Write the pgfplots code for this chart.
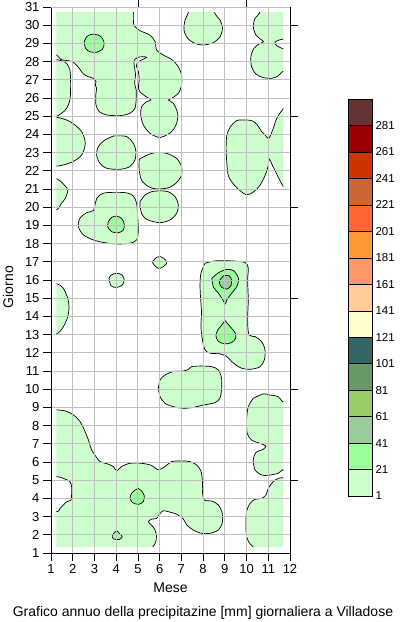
\documentclass[border=0pt]{standalone}
\usepackage{pgfplots}
\pgfplotsset{compat=1.18}
\usepackage{fontspec}
\setmainfont{Liberation Sans}
\definecolor{c1}{HTML}{CCFFCC}
\definecolor{c2}{HTML}{99FF99}
\definecolor{c3}{HTML}{99CC99}
\definecolor{c4}{HTML}{99CC66}
\definecolor{c5}{HTML}{669966}
\definecolor{c6}{HTML}{336666}
\definecolor{c7}{HTML}{FFFFCC}
\definecolor{c8}{HTML}{FFCC99}
\definecolor{c9}{HTML}{FF9966}
\definecolor{c10}{HTML}{FF9933}
\definecolor{c11}{HTML}{FF6633}
\definecolor{c12}{HTML}{CC6633}
\definecolor{c13}{HTML}{CC3300}
\definecolor{c14}{HTML}{990000}
\definecolor{c15}{HTML}{663333}
\definecolor{gridc}{HTML}{C0C0C0}
\tikzset{
  cl1/.style={fill=c1, draw=black, line width=0.7pt, smooth, tension=0.5},
  cl2/.style={fill=c2, draw=black, line width=0.7pt, smooth, tension=0.5},
  cl3/.style={fill=c3, draw=black, line width=0.7pt, smooth, tension=0.5},
}
\begin{document}
\begin{tikzpicture}
\useasboundingbox (-51pt,-69pt) rectangle (349pt,553pt);
\begin{axis}[
  at={(0pt,0pt)}, anchor=south west,
  scale only axis, width=239pt, height=546pt,
  xmin=1, xmax=12, ymin=1, ymax=31,
  xtick={1,...,12}, ytick={1,...,31},
  axis x line*=bottom, axis y line*=left,
  tick align=outside, major tick length=8pt,
  grid=major, major grid style={draw=gridc, line width=0.9pt},
  axis line style={draw=black, line width=0.9pt},
  major tick style={draw=black, line width=0.8pt},
  tick label style={font=\fontsize{13}{13}\selectfont},
  /pgf/number format/assume math mode=true,
  axis on top,
]
\begin{scope}
\clip (axis cs:1.25,1.35) rectangle (axis cs:11.7,30.7);
% region A (top left)
\addplot[cl1] coordinates {(0.8,31.2) (4.79,31.2) (4.79,30.65) (4.82,30.0) (5.10,29.7) (5.55,29.46) (5.79,29.1) (5.86,28.64) (6.17,28.36) (6.55,28.12) (6.86,27.72) (7.01,27.26) (7.01,26.71) (6.86,26.26) (6.55,25.98) (6.40,25.89) (6.63,25.71) (6.83,25.16) (6.78,24.6) (6.55,24.15) (6.17,23.88) (5.94,23.84) (5.55,24.06) (5.25,24.52) (5.13,25.07) (5.17,25.52) (5.40,25.8) (5.60,25.89) (5.33,26.11) (5.10,26.33) (5.02,26.59) (5.06,26.99) (5.02,27.45) (4.93,27.76) (4.97,27.94) (5.17,28.09) (5.40,28.23) (5.25,28.27) (4.97,28.22) (4.82,28.03) (4.84,27.72) (4.89,27.26) (4.85,26.81) (4.92,26.44) (4.92,25.89) (4.86,25.43) (4.63,25.16) (4.17,25.03) (3.56,25.07) (3.22,25.25) (3.07,25.62) (3.06,26.16) (3.10,26.53) (3.04,26.71) (3.07,26.9) (2.95,27.08) (2.72,27.17) (2.49,27.32) (2.30,27.63) (2.10,27.9) (1.87,28.03) (1.64,28.07) (1.44,28.12) (1.34,28.27) (1.26,28.36) (0.8,28.4)} -- cycle;
\addplot[cl2] coordinates {(2.53,29.09) (2.64,29.37) (2.87,29.5) (3.18,29.46) (3.36,29.28) (3.45,29.0) (3.36,28.67) (3.10,28.51) (2.79,28.54) (2.59,28.73) (2.53,29.09)} -- cycle;
% left strip
\addplot[cl1] coordinates {(0.8,28.1) (1.3,28.1) (1.49,28.05) (1.72,27.9) (1.87,27.54) (1.90,26.99) (1.90,26.44) (1.87,25.89) (1.72,25.43) (1.49,25.16) (1.29,25.01) (0.8,25.0)} -- cycle;
% left half disc
\addplot[cl1] coordinates {(0.8,24.95) (1.26,24.94) (1.72,24.79) (2.10,24.52) (2.41,24.15) (2.56,23.69) (2.56,23.33) (2.41,22.87) (2.10,22.56) (1.72,22.37) (1.29,22.26) (0.8,22.25)} -- cycle;
% blob (4,23)
\addplot[cl1] coordinates {(3.87,23.91) (4.02,23.92) (4.48,23.88) (4.79,23.51) (4.91,23.05) (4.86,22.59) (4.63,22.23) (4.17,22.08) (3.56,22.14) (3.25,22.41) (3.10,22.87) (3.18,23.33) (3.48,23.69) (3.87,23.91)} -- cycle;
% blob (6,22)
\addplot[cl1] coordinates {(5.06,22.63) (5.40,22.85) (5.79,23.0) (6.32,22.96) (6.78,22.68) (7.01,22.23) (7.01,21.77) (6.78,21.35) (6.40,21.07) (5.86,21.0) (5.48,21.13) (5.17,21.49) (5.06,22.04) (5.06,22.63)} -- cycle;
% blob (6,20)
\addplot[cl1] coordinates {(5.10,20.3) (5.33,20.67) (5.63,20.85) (6.02,20.9) (6.40,20.85) (6.71,20.58) (6.86,20.12) (6.78,19.66) (6.48,19.3) (6.02,19.15) (5.55,19.26) (5.33,19.39) (5.17,19.66) (5.10,20.03) (5.10,20.3)} -- cycle;
% left piece 20-21
\addplot[cl1] coordinates {(0.8,21.6) (1.29,21.55) (1.57,21.27) (1.77,20.95) (1.66,20.49) (1.46,20.18) (1.29,19.88) (0.8,19.85)} -- cycle;
% blob (4,19)
\addplot[cl1] coordinates {(3.10,20.48) (3.25,20.67) (3.56,20.8) (4.41,20.8) (4.79,20.62) (4.94,20.21) (4.98,19.66) (5.02,18.75) (4.94,18.2) (4.64,18.02) (4.10,17.98) (3.64,18.02) (3.02,18.17) (2.49,18.48) (2.26,18.94) (2.33,19.39) (2.64,19.7) (2.95,19.81) (3.02,20.12) (3.10,20.48)} -- cycle;
\addplot[cl2] coordinates {(3.64,19.2) (3.79,19.44) (4.02,19.51) (4.25,19.38) (4.37,19.07) (4.33,18.74) (4.10,18.6) (3.79,18.65) (3.61,18.93) (3.64,19.2)} -- cycle;
% small (4,16)
\addplot[cl1] coordinates {(3.67,16.09) (3.76,16.27) (4.02,16.37) (4.28,16.27) (4.37,16.0) (4.28,15.72) (4.02,15.59) (3.76,15.68) (3.67,16.09)} -- cycle;
% small (6,17)
\addplot[cl1] coordinates {(5.66,17.0) (5.86,17.24) (6.06,17.28) (6.28,17.09) (6.32,16.91) (6.12,16.69) (5.94,16.64) (5.75,16.82) (5.66,17.0)} -- cycle;
% left piece 13-15
\addplot[cl1] coordinates {(0.8,15.8) (1.31,15.78) (1.57,15.54) (1.77,15.0) (1.83,14.53) (1.77,13.98) (1.57,13.43) (1.31,13.07) (0.8,13.0)} -- cycle;
% blob (8,30)
\addplot[cl1] coordinates {(7.35,31.2) (7.32,30.69) (7.17,30.29) (7.12,29.74) (7.29,29.28) (7.63,29.0) (8.01,28.91) (8.47,29.04) (8.78,29.37) (8.89,29.83) (8.78,30.29) (8.55,30.62) (8.5,31.2)} -- cycle;
% top right
\addplot[cl1] coordinates {(10.6,31.2) (10.61,30.69) (10.39,30.38) (10.31,29.92) (10.43,29.46) (10.66,29.22) (10.78,29.09) (10.58,28.97) (10.34,28.73) (10.2,28.27) (10.23,27.72) (10.43,27.32) (10.77,27.12) (11.15,27.08) (11.46,27.21) (11.66,27.45) (12,27.6) (12,28.6) (11.69,28.70) (11.38,28.88) (11.31,29.06) (11.46,29.17) (11.69,29.24) (12,29.3) (12,31.2)} -- cycle;
% right middle
\addplot[cl1] coordinates {(9.93,24.79) (10.23,24.76) (10.46,24.57) (10.7,24.15) (10.85,23.97) (11.03,23.79) (11.23,24.33) (11.39,24.88) (11.65,25.34) (12,25.6) (12,20.9) (11.69,21.15) (11.46,21.65) (11.23,22.2) (11.04,22.65) (11.0,22.29) (10.85,21.74) (10.61,21.19) (10.31,20.83) (10.0,20.68) (9.70,20.91) (9.39,21.28) (9.16,21.74) (9.09,22.47) (9.06,23.2) (9.09,23.93) (9.24,24.39) (9.55,24.76) (9.93,24.79)} -- cycle;
% region (9,14)
\addplot[cl1] coordinates {(8.09,16.92) (8.55,17.05) (9.31,17.05) (9.93,16.96) (10.08,16.65) (10.05,16.01) (10.08,14.91) (10.05,13.81) (10.11,12.99) (10.39,12.89) (10.69,12.62) (10.85,12.16) (10.82,11.61) (10.62,11.24) (10.23,11.1) (9.78,11.15) (9.40,11.43) (9.09,11.79) (8.78,11.94) (8.32,11.98) (8.09,12.16) (7.97,12.71) (7.90,13.44) (7.93,14.17) (7.90,14.72) (7.86,15.64) (7.90,16.37) (8.09,16.92)} -- cycle;
\addplot[cl2] coordinates {(8.40,16.09) (8.71,16.4) (9.09,16.58) (9.40,16.51) (9.63,16.09) (9.55,15.64) (9.31,15.27) (9.09,14.91) (9.02,14.69) (8.89,14.94) (8.71,15.27) (8.48,15.6) (8.40,16.09)} -- cycle;
\addplot[cl3] coordinates {(8.78,16.01) (8.94,16.23) (9.20,16.23) (9.31,16.01) (9.28,15.68) (9.09,15.5) (8.86,15.6) (8.75,15.83) (8.78,16.01)} -- cycle;
\addplot[cl2] coordinates {(9.01,13.77) (9.24,13.44) (9.47,13.11) (9.50,12.8) (9.31,12.56) (9.01,12.49) (8.71,12.62) (8.59,12.93) (8.68,13.26) (8.86,13.53) (9.01,13.77)} -- cycle;
% blob (7.5,10)
\addplot[cl1] coordinates {(5.94,10.05) (6.02,10.51) (6.25,10.78) (6.63,10.97) (7.09,11.0) (7.32,11.09) (7.47,11.24) (7.86,11.27) (8.39,11.24) (8.70,11.06) (8.85,10.6) (8.85,9.96) (8.77,9.5) (8.55,9.26) (8.01,9.13) (7.55,9.0) (7.09,8.95) (6.63,9.04) (6.25,9.22) (6.02,9.59) (5.94,10.05)} -- cycle;
% right (10.5,7.5)
\addplot[cl1] coordinates {(10.31,9.5) (10.77,9.74) (11.08,9.68) (11.46,9.59) (11.66,9.31) (12,9.2) (12,5.5) (11.66,5.57) (11.46,5.38) (11.0,5.27) (10.69,5.29) (10.39,5.57) (10.31,6.12) (10.43,6.52) (10.77,6.7) (10.88,6.88) (10.61,7.03) (10.23,7.21) (10.03,7.58) (10.0,8.31) (10.08,9.04) (10.31,9.5)} -- cycle;
% bottom right
\addplot[cl1] coordinates {(12,5.2) (11.69,5.14) (11.46,5.1) (11.23,4.92) (11.0,4.55) (10.89,4.18) (10.69,4.0) (10.39,3.95) (10.16,3.73) (10.0,3.27) (9.97,2.63) (10.0,1.9) (10.16,1.5) (10.31,1.32) (10.35,0.8) (12,0.8)} -- cycle;
% bottom big region
\addplot[cl1] coordinates {(0.8,8.9) (1.31,8.86) (1.64,8.81) (2.03,8.59) (2.34,8.22) (2.53,7.77) (2.72,7.22) (2.87,6.67) (3.10,6.25) (3.25,6.03) (3.64,5.88) (3.87,5.75) (4.02,5.52) (4.25,5.75) (4.64,5.93) (5.17,5.93) (5.63,5.81) (5.94,5.57) (6.25,5.75) (6.55,6.02) (7.01,6.06) (7.40,6.02) (7.70,5.84) (7.90,5.51) (7.97,4.92) (7.97,4.37) (8.06,3.91) (8.39,3.86) (8.70,3.64) (8.88,3.18) (8.88,2.63) (8.70,2.26) (8.32,2.08) (7.93,2.08) (7.55,2.26) (7.25,2.54) (7.09,2.87) (6.78,3.13) (6.40,3.27) (6.17,3.32) (6.02,3.17) (5.86,2.9) (5.63,2.86) (5.48,2.71) (5.63,2.53) (5.79,2.26) (5.86,1.89) (5.79,1.52) (5.66,1.29) (5.6,0.8) (0.8,0.8) (0.8,3.25) (1.31,3.27) (1.41,3.45) (1.57,3.64) (1.72,3.82) (1.92,3.91) (1.95,4.28) (1.95,4.64) (1.87,4.92) (1.57,5.1) (1.31,5.19) (0.8,5.2)} -- cycle;
\addplot[cl2] coordinates {(5.02,4.55) (5.17,4.41) (5.29,4.15) (5.25,3.82) (5.02,3.67) (4.74,3.78) (4.64,4.04) (4.71,4.28) (4.87,4.45) (5.02,4.55)} -- cycle;
\addplot[cl2] coordinates {(4.02,2.23) (4.17,2.05) (4.28,1.89) (4.13,1.74) (3.87,1.78) (3.82,1.96) (3.92,2.12) (4.02,2.23)} -- cycle;
\end{scope}
\end{axis}
% right and top ticks
\begin{axis}[
  at={(0pt,0pt)}, anchor=south west,
  scale only axis, width=239pt, height=546pt,
  xmin=1, xmax=12, ymin=1, ymax=31,
  axis x line*=top, axis y line*=right,
  xtick={5,10}, ytick={5,10,...,30},
  xticklabels={}, yticklabels={},
  tick align=outside, major tick length=8pt,
  x axis line style={draw=gridc, line width=0.9pt},
  y axis line style={draw=black, line width=0.9pt},
  major tick style={draw=black, line width=0.8pt},
]
\addplot[draw=none] coordinates {(1,1)};
\end{axis}
% colour scale
\begin{axis}[
  at={(297pt,57pt)}, anchor=south west,
  scale only axis, width=24pt, height=397pt,
  xmin=0, xmax=1, ymin=1, ymax=301,
  xtick=\empty, ytick={1,21,...,281}, yticklabel pos=right,
  major tick length=0pt,
  axis line style={draw=black, line width=0.8pt},
  tick label style={font=\fontsize{11.5}{12}\selectfont},
  /pgf/number format/assume math mode=true,
]
\addplot[fill=c1, draw=black] coordinates {(0,1) (1,1) (1,21) (0,21)} -- cycle;
\addplot[fill=c2, draw=black] coordinates {(0,21) (1,21) (1,41) (0,41)} -- cycle;
\addplot[fill=c3, draw=black] coordinates {(0,41) (1,41) (1,61) (0,61)} -- cycle;
\addplot[fill=c4, draw=black] coordinates {(0,61) (1,61) (1,81) (0,81)} -- cycle;
\addplot[fill=c5, draw=black] coordinates {(0,81) (1,81) (1,101) (0,101)} -- cycle;
\addplot[fill=c6, draw=black] coordinates {(0,101) (1,101) (1,121) (0,121)} -- cycle;
\addplot[fill=c7, draw=black] coordinates {(0,121) (1,121) (1,141) (0,141)} -- cycle;
\addplot[fill=c8, draw=black] coordinates {(0,141) (1,141) (1,161) (0,161)} -- cycle;
\addplot[fill=c9, draw=black] coordinates {(0,161) (1,161) (1,181) (0,181)} -- cycle;
\addplot[fill=c10, draw=black] coordinates {(0,181) (1,181) (1,201) (0,201)} -- cycle;
\addplot[fill=c11, draw=black] coordinates {(0,201) (1,201) (1,221) (0,221)} -- cycle;
\addplot[fill=c12, draw=black] coordinates {(0,221) (1,221) (1,241) (0,241)} -- cycle;
\addplot[fill=c13, draw=black] coordinates {(0,241) (1,241) (1,261) (0,261)} -- cycle;
\addplot[fill=c14, draw=black] coordinates {(0,261) (1,261) (1,281) (0,281)} -- cycle;
\addplot[fill=c15, draw=black] coordinates {(0,281) (1,281) (1,301) (0,301)} -- cycle;
\end{axis}
\node[font=\fontsize{14}{14}\selectfont] at (119.5pt,-35pt) {Mese};
\node[font=\fontsize{14}{14}\selectfont, rotate=90] at (-43pt,266pt) {Giorno};
\node[font=\fontsize{14}{14}\selectfont] at (152pt,-59.5pt) {Grafico annuo della precipitazine [mm] giornaliera a Villadose};
\end{tikzpicture}
\end{document}
